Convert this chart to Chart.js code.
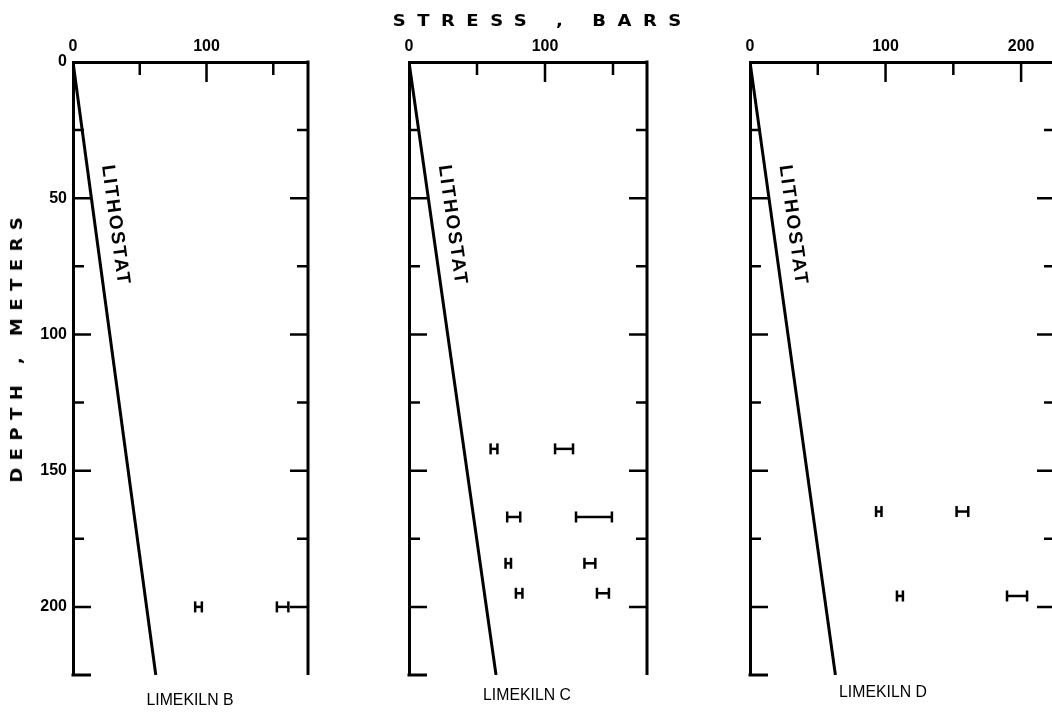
<!DOCTYPE html>
<html>
<head>
<meta charset="utf-8">
<script src="https://cdn.jsdelivr.net/npm/chart.js@4/dist/chart.umd.min.js"></script>
<style>
html, body { margin: 0; padding: 0; background: #fff; overflow: hidden; }
#wrap { position: relative; width: 1052px; height: 728px; overflow: hidden; }
#wrap canvas { position: absolute; left: 0; top: 0; }
.lbl { position: absolute; color: #000; white-space: nowrap; line-height: 1; }
#xTitle { left: 537px; top: 12px; font: bold 15px "DejaVu Sans"; letter-spacing: 9.6px; padding-left: 9.6px;
  transform: translateX(-50%) scaleX(1.2); }
#yTitle { left: 17px; top: 350px; font: bold 15px "DejaVu Sans"; letter-spacing: 6.2px; padding-left: 6.2px;
  transform: translate(-50%, -50%) rotate(-90deg) scaleX(1.2); }
.kiln { font: 17px "Liberation Sans"; transform: translate(-50%, -50%) scaleX(0.93); }
</style>
</head>
<body>
<div id="wrap">
  <canvas id="chartB" width="1080" height="728"></canvas>
  <canvas id="chartC" width="1080" height="728"></canvas>
  <canvas id="chartD" width="1080" height="728"></canvas>
  <div class="lbl" id="xTitle">STRESS , BARS</div>
  <div class="lbl" id="yTitle">DEPTH , METERS</div>
  <div class="lbl kiln" id="nameB" style="left:190px;top:700px"></div>
  <div class="lbl kiln" id="nameC" style="left:527px;top:695px"></div>
  <div class="lbl kiln" id="nameD" style="left:883px;top:692px"></div>
</div>
<script>
// panel names
const panelNames = ['LIMEKILN B', 'LIMEKILN C', 'LIMEKILN D'];

// tick labels
const depthTicks = [0, 50, 100, 150, 200];
const stressTicksB = [0, 100];
const stressTicksC = [0, 100];
const stressTicksD = [0, 100, 200];

// lithostat line (stress in bars at depth in meters)
const lithoDepth = [0, 225];
const lithoB = [0, 62];
const lithoC = [0, 64];
const lithoD = [0, 63];

// measured stresses: low (shmin) and high (SHmax) with half-widths
const bDepth = [200];
const bLow = [94];
const bLowErr = [2.5];
const bHigh = [157];
const bHighErr = [4.3];

const cDepth = [142, 167, 184, 195];
const cLow = [62.5, 77, 73, 81];
const cLowErr = [2.5, 4.8, 2, 2.4];
const cHigh = [114, 136, 133, 142.6];
const cHighErr = [6.6, 13.2, 4, 4.4];

const dDepth = [165, 196];
const dLow = [95, 110.6];
const dLowErr = [2, 2.2];
const dHigh = [156.7, 197];
const dHighErr = [4.3, 7.4];

panelNames.forEach((n, i) => { document.getElementById(['nameB', 'nameC', 'nameD'][i]).textContent = n; });

// inward frame ticks, right side line, bottom stub and the LITHOSTAT label
const framePlugin = {
    id: 'frame',
    afterDraw(chart, args, opts) {
        const { ctx, chartArea: a, scales: { x, y } } = chart;
        ctx.save();
        ctx.strokeStyle = '#000';
        ctx.lineWidth = 3;
        ctx.beginPath();
        ctx.moveTo(a.right, a.top - 1.5);
        ctx.lineTo(a.right, a.bottom);
        ctx.moveTo(a.left - 1.5, a.bottom);
        ctx.lineTo(a.left + 18, a.bottom);
        ctx.stroke();

        ctx.lineWidth = 2.5;
        ctx.beginPath();
        for (let v = 25; v <= 200; v += 25) {
            const py = y.getPixelForValue(v);
            const len = v % 50 === 0 ? 18 : 11;
            ctx.moveTo(a.left, py); ctx.lineTo(a.left + len, py);
            ctx.moveTo(a.right, py); ctx.lineTo(a.right - len, py);
        }
        for (let v = 50; v < x.max; v += 50) {
            const px = x.getPixelForValue(v);
            const len = v % 100 === 0 ? 20 : 13;
            ctx.moveTo(px, a.top); ctx.lineTo(px, a.top + len);
        }
        ctx.stroke();

        // label along the lithostat line
        const pts = chart.getDatasetMeta(0).data;
        const p0 = pts[0], p1 = pts[1];
        const ang = Math.atan2(p1.y - p0.y, p1.x - p0.x);
        const t = (y.getPixelForValue(opts.labelDepth) - p0.y) / (p1.y - p0.y);
        ctx.translate(p0.x + t * (p1.x - p0.x), p0.y + t * (p1.y - p0.y));
        ctx.rotate(ang);
        ctx.translate(0, -20);
        ctx.font = 'bold 19px "Liberation Sans"';
        ctx.fillStyle = '#000';
        ctx.textAlign = 'center';
        ctx.textBaseline = 'middle';
        ctx.letterSpacing = '2px';
        ctx.fillText('LITHOSTAT', 0, 0);
        ctx.restore();
    }
};

function errorBars(depth, val, err) {
    return depth.map((d, i) => ({
        data: [{ x: val[i] - err[i], y: d }, { x: val[i] + err[i], y: d }],
        showLine: true,
        borderColor: '#000',
        borderWidth: 2.5,
        pointStyle: 'line',
        pointRotation: 90,
        pointRadius: 5.5,
        pointBorderWidth: 2.5,
        pointBorderColor: '#000'
    }));
}

function makeChart(id, p) {
    const datasets = [{
        data: lithoDepth.map((d, i) => ({ x: p.litho[i], y: d })),
        showLine: true,
        borderColor: '#000',
        borderWidth: 3,
        pointRadius: 0
    }].concat(errorBars(p.depth, p.low, p.lowErr), errorBars(p.depth, p.high, p.highErr));

    const tickFont = { family: 'Liberation Sans', weight: 'bold', size: 16 };

    return new Chart(document.getElementById(id), {
        type: 'scatter',
        data: { datasets: datasets },
        plugins: [framePlugin],
        options: {
            responsive: false,
            animation: false,
            events: [],
            layout: { padding: { left: p.left - p.yWidth, top: 0, right: 1080 - p.right, bottom: 53 } },
            plugins: {
                legend: { display: false },
                tooltip: { enabled: false },
                frame: { labelDepth: 61 }
            },
            scales: {
                x: {
                    type: 'linear', position: 'top', min: 0, max: p.max,
                    afterBuildTicks: s => { s.ticks = p.xTicks.map(v => ({ value: v })); },
                    afterFit: s => { s.height = 62; },
                    grid: { drawOnChartArea: false, drawTicks: false },
                    border: { display: true, color: '#000', width: 3 },
                    ticks: { color: '#000', padding: 6, maxRotation: 0, font: tickFont }
                },
                y: {
                    type: 'linear', reverse: true, min: 0, max: 225,
                    afterBuildTicks: s => { s.ticks = depthTicks.map(v => ({ value: v })); },
                    afterFit: s => { s.width = p.yWidth; },
                    grid: { drawOnChartArea: false, drawTicks: false },
                    border: { display: true, color: '#000', width: 3 },
                    ticks: { display: p.yLabels, color: '#000', padding: 6, font: tickFont }
                }
            }
        }
    });
}

makeChart('chartB', { left: 73, right: 308, max: 176, yWidth: 73, yLabels: true, xTicks: stressTicksB,
    litho: lithoB, depth: bDepth, low: bLow, lowErr: bLowErr, high: bHigh, highErr: bHighErr });
makeChart('chartC', { left: 409, right: 647, max: 175, yWidth: 10, yLabels: false, xTicks: stressTicksC,
    litho: lithoC, depth: cDepth, low: cLow, lowErr: cLowErr, high: cHigh, highErr: cHighErr });
makeChart('chartD', { left: 750, right: 1055, max: 225, yWidth: 10, yLabels: false, xTicks: stressTicksD,
    litho: lithoD, depth: dDepth, low: dLow, lowErr: dLowErr, high: dHigh, highErr: dHighErr });
</script>
</body>
</html>
